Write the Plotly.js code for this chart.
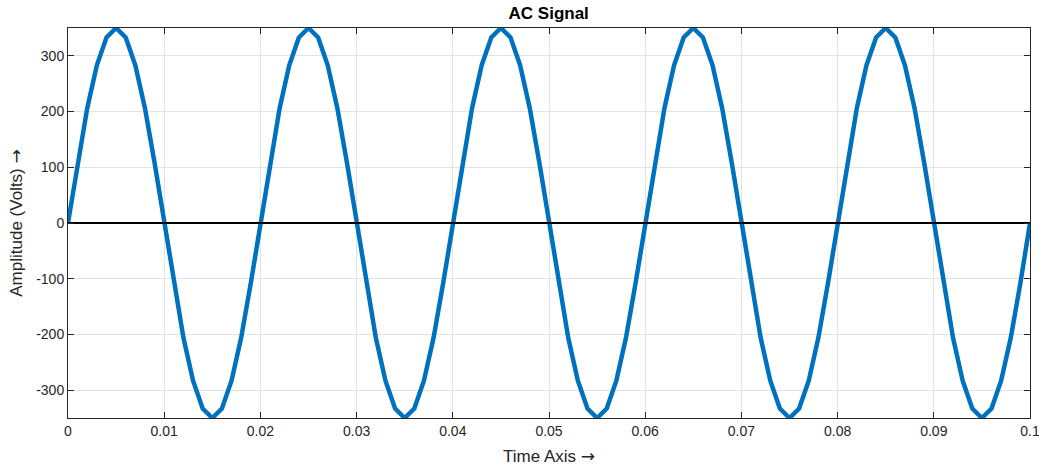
<!DOCTYPE html>
<html>
<head>
<meta charset="utf-8">
<script src="https://cdn.plot.ly/plotly-3.0.1.min.js"></script>
<style>
html,body{margin:0;padding:0;background:#fff;}
#chart{width:1039px;height:468px;}
</style>
</head>
<body>
<div id="chart"></div>
<script>
// Time samples (s)
var timeValues = [
  0.000,0.001,0.002,0.003,0.004,0.005,0.006,0.007,0.008,0.009,
  0.010,0.011,0.012,0.013,0.014,0.015,0.016,0.017,0.018,0.019,
  0.020,0.021,0.022,0.023,0.024,0.025,0.026,0.027,0.028,0.029,
  0.030,0.031,0.032,0.033,0.034,0.035,0.036,0.037,0.038,0.039,
  0.040,0.041,0.042,0.043,0.044,0.045,0.046,0.047,0.048,0.049,
  0.050,0.051,0.052,0.053,0.054,0.055,0.056,0.057,0.058,0.059,
  0.060,0.061,0.062,0.063,0.064,0.065,0.066,0.067,0.068,0.069,
  0.070,0.071,0.072,0.073,0.074,0.075,0.076,0.077,0.078,0.079,
  0.080,0.081,0.082,0.083,0.084,0.085,0.086,0.087,0.088,0.089,
  0.090,0.091,0.092,0.093,0.094,0.095,0.096,0.097,0.098,0.099,
  0.100
];
// Amplitude samples (V)
var amplitudeValues = [
  0,108,206,283,333,350,333,283,206,108,
  0,-108,-206,-283,-333,-350,-333,-283,-206,-108,
  0,108,206,283,333,350,333,283,206,108,
  0,-108,-206,-283,-333,-350,-333,-283,-206,-108,
  0,108,206,283,333,350,333,283,206,108,
  0,-108,-206,-283,-333,-350,-333,-283,-206,-108,
  0,108,206,283,333,350,333,283,206,108,
  0,-108,-206,-283,-333,-350,-333,-283,-206,-108,
  0,108,206,283,333,350,333,283,206,108,
  0,-108,-206,-283,-333,-350,-333,-283,-206,-108,
  0
];
// Zero reference line
var zeroLineX = [0, 0.1];
var zeroLineY = [0, 0];
// Ticks
var xTickVals = [0,0.01,0.02,0.03,0.04,0.05,0.06,0.07,0.08,0.09,0.1];
var xTickText = ["0","0.01","0.02","0.03","0.04","0.05","0.06","0.07","0.08","0.09","0.1"];
var yTickVals = [-300,-200,-100,0,100,200,300];
var yTickText = ["-300","-200","-100","0","100","200","300"];

var fontFam = '"Liberation Sans", Arial, Helvetica, sans-serif';
var axisColor = '#262626';
var arrow = '<span style="font-family:\'DejaVu Sans\'">\u2192</span>';

var traces = [
  {x: timeValues, y: amplitudeValues, type: 'scatter', mode: 'lines',
   line: {color: '#0072BD', width: 4.5}, hoverinfo: 'x+y'},
  {x: zeroLineX, y: zeroLineY, type: 'scatter', mode: 'lines',
   line: {color: '#000000', width: 2}, hoverinfo: 'skip'}
];

var axisCommon = {
  showline: true, mirror: 'ticks', linecolor: axisColor, linewidth: 1,
  ticks: 'inside', ticklen: 6, tickwidth: 1, tickcolor: axisColor,
  showgrid: true, gridcolor: '#e3e3e3', gridwidth: 1,
  zeroline: false, ticklabeloverflow: 'allow',
  tickfont: {family: fontFam, size: 14, color: axisColor}
};

var layout = {
  width: 1039, height: 468,
  margin: {l: 68, r: 9, t: 28, b: 50},
  paper_bgcolor: '#ffffff', plot_bgcolor: '#ffffff',
  showlegend: false,
  title: {text: '<b>AC Signal</b>', font: {family: fontFam, size: 17, color: '#000000'},
          x: 0.5281, xanchor: 'center', y: 0.973, yanchor: 'middle'},
  xaxis: Object.assign({}, axisCommon, {
    range: [0, 0.1000001], tickmode: 'array', tickvals: xTickVals, ticktext: xTickText,
    title: {text: 'Time Axis ' + arrow, font: {family: fontFam, size: 17, color: axisColor}, standoff: 12}
  }),
  yaxis: Object.assign({}, axisCommon, {
    range: [-350, 350], tickmode: 'array', tickvals: yTickVals, ticktext: yTickText,
    title: {text: 'Amplitude (Volts) ' + arrow, font: {family: fontFam, size: 17, color: axisColor}, standoff: 9}
  })
};

Plotly.newPlot('chart', traces, layout, {displayModeBar: false, staticPlot: true});
</script>
</body>
</html>
